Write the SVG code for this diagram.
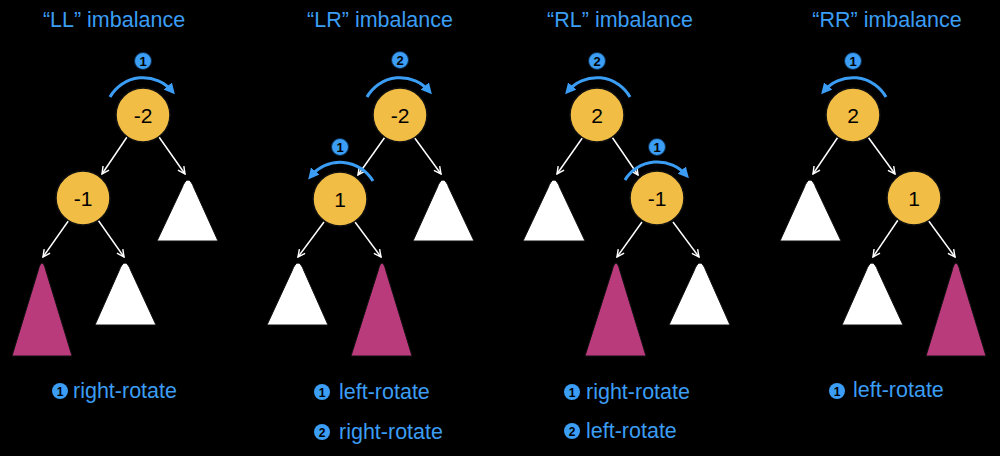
<svg xmlns="http://www.w3.org/2000/svg" width="1000" height="456" viewBox="0 0 1000 456">
<defs>
<marker id="rot" viewBox="0 0 10 10" markerUnits="userSpaceOnUse" markerWidth="11" markerHeight="11" refX="6" refY="5" orient="auto">
<path d="M0,0 L10,5 L0,10 z" fill="#3b9df4"/>
</marker>
<marker id="open" viewBox="0 0 10 10" markerUnits="userSpaceOnUse" markerWidth="9" markerHeight="9" refX="9" refY="5" orient="auto">
<path d="M1,1 L9,5 L1,9" fill="none" stroke="#ffffff" stroke-width="1.6"/>
</marker>
<style>
.title{font-family:"Liberation Sans",Arial,sans-serif;font-size:21.5px;fill:#3b9df4;text-anchor:middle}
.cap{font-family:"Liberation Sans",Arial,sans-serif;font-size:21.5px;fill:#3b9df4}
.node{fill:#f1bd44;stroke:#111;stroke-width:1.5}
.nt{font-family:"Liberation Sans",Arial,sans-serif;font-size:21px;fill:#000;text-anchor:middle}
.badge{fill:#3b9df4;stroke:#0a2a4a;stroke-width:1}
.bt{font-family:"Liberation Sans",Arial,sans-serif;font-size:13px;font-weight:bold;fill:#000;text-anchor:middle}
.cbt{font-family:"Liberation Sans",Arial,sans-serif;font-size:12px;font-weight:bold;fill:#000;text-anchor:middle}
.rot{fill:none;stroke:#3b9df4;stroke-width:3;marker-end:url(#rot)}
.edge{fill:none;stroke:#ffffff;stroke-width:1.5;marker-end:url(#open)}
.wt{fill:#ffffff;stroke:#111;stroke-width:1}
.pt{fill:#ba3b7c;stroke:#111;stroke-width:1}
</style>
</defs>
<rect width="1000" height="456" fill="#000"/>

<g id="titles">
<text class="title" x="114" y="27">“LL” imbalance</text>
<text class="title" x="380" y="27">“LR” imbalance</text>
<text class="title" x="620" y="27">“RL” imbalance</text>
<text class="title" x="887" y="27">“RR” imbalance</text>
</g>

<g id="connectors">
<path class="edge" d="M127,137 L102,174"/>
<path class="edge" d="M159,137 L185,174"/>
<path class="edge" d="M69,220 L43,257"/>
<path class="edge" d="M98,220 L124,257"/>

<path class="edge" d="M385,137 L358,175"/>
<path class="edge" d="M414,137 L441,174"/>
<path class="edge" d="M324,222 L298,257"/>
<path class="edge" d="M355,222 L381,257"/>

<path class="edge" d="M583,137 L557,174"/>
<path class="edge" d="M612,137 L638,175"/>
<path class="edge" d="M642,222 L617,257"/>
<path class="edge" d="M673,222 L699,257"/>

<path class="edge" d="M838,137 L813,174"/>
<path class="edge" d="M868,137 L895,174"/>
<path class="edge" d="M898,220 L873,257"/>
<path class="edge" d="M928,220 L955,257"/>
</g>

<g id="rotations">
<path class="rot" d="M110,97 A38,38 0 0 1 172,91"/>
<path class="rot" d="M367,97 A38,38 0 0 1 429,91"/>
<path class="rot" d="M373,181 A38,38 0 0 0 311,176"/>
<path class="rot" d="M630,97 A38,38 0 0 0 568,91"/>
<path class="rot" d="M625,180 A38,38 0 0 1 686,175"/>
<path class="rot" d="M886,97 A38,38 0 0 0 824,91"/>
</g>

<g id="badges">
<circle class="badge" cx="143" cy="61" r="8.5"/><text class="bt" x="143" y="65.5">1</text>
<circle class="badge" cx="400" cy="60" r="8.5"/><text class="bt" x="400" y="64.5">2</text>
<circle class="badge" cx="340" cy="147" r="8.5"/><text class="bt" x="340" y="151.5">1</text>
<circle class="badge" cx="597" cy="61" r="8.5"/><text class="bt" x="597" y="65.5">2</text>
<circle class="badge" cx="657" cy="147" r="8.5"/><text class="bt" x="657" y="151.5">1</text>
<circle class="badge" cx="853" cy="61" r="8.5"/><text class="bt" x="853" y="65.5">1</text>
</g>

<g id="ll-root"><circle class="node" cx="143" cy="115" r="27"/><text class="nt" x="143" y="122.5">-2</text></g>
<g id="ll-left"><circle class="node" cx="83" cy="198" r="27"/><text class="nt" x="83" y="205.5">-1</text></g>
<g id="ll-t1"><path class="wt" d="M157,241 L182,188 Q188,172 194,188 L218,241 Z"/></g>
<g id="ll-t2"><path class="pt" d="M12,356 L38,271 Q42,255 46,271 L72,356 Z"/></g>
<g id="ll-t3"><path class="wt" d="M95,325 L119,271 Q125,255 131,271 L156,325 Z"/></g>

<g id="lr-root"><circle class="node" cx="400" cy="115" r="27"/><text class="nt" x="400" y="122.5">-2</text></g>
<g id="lr-left"><circle class="node" cx="340" cy="199" r="27"/><text class="nt" x="340" y="206.5">1</text></g>
<g id="lr-t1"><path class="wt" d="M413,241 L437,188 Q443,172 449,188 L474,241 Z"/></g>
<g id="lr-t2"><path class="wt" d="M267,325 L292,271 Q298,255 304,271 L328,325 Z"/></g>
<g id="lr-t3"><path class="pt" d="M351,356 L378,271 Q382,255 386,271 L412,356 Z"/></g>

<g id="rl-root"><circle class="node" cx="597" cy="115" r="27"/><text class="nt" x="597" y="122.5">2</text></g>
<g id="rl-right"><circle class="node" cx="657" cy="198" r="27"/><text class="nt" x="657" y="205.5">-1</text></g>
<g id="rl-t1"><path class="wt" d="M523,241 L548,188 Q554,172 560,188 L585,241 Z"/></g>
<g id="rl-t2"><path class="pt" d="M585,356 L612,271 Q616,255 620,271 L646,356 Z"/></g>
<g id="rl-t3"><path class="wt" d="M669,325 L694,271 Q700,255 706,271 L730,325 Z"/></g>

<g id="rr-root"><circle class="node" cx="853" cy="115" r="27"/><text class="nt" x="853" y="122.5">2</text></g>
<g id="rr-right"><circle class="node" cx="914" cy="198" r="27"/><text class="nt" x="914" y="205.5">1</text></g>
<g id="rr-t1"><path class="wt" d="M780,241 L804,188 Q810,172 816,188 L841,241 Z"/></g>
<g id="rr-t2"><path class="wt" d="M842,325 L866,271 Q872,255 878,271 L903,325 Z"/></g>
<g id="rr-t3"><path class="pt" d="M926,356 L952,271 Q956,255 960,271 L986,356 Z"/></g>

<g id="captions">
<circle cx="60" cy="391" r="8" fill="#3b9df4"/><text class="cbt" x="60" y="395.5">1</text>
<text class="cap" x="73" y="398">right-rotate</text>
<circle cx="322" cy="392" r="8" fill="#3b9df4"/><text class="cbt" x="322" y="396.5">1</text>
<text class="cap" x="339" y="399">left-rotate</text>
<circle cx="322" cy="432" r="8" fill="#3b9df4"/><text class="cbt" x="322" y="436.5">2</text>
<text class="cap" x="339" y="439">right-rotate</text>
<circle cx="572" cy="392" r="8" fill="#3b9df4"/><text class="cbt" x="572" y="396.5">1</text>
<text class="cap" x="586" y="399">right-rotate</text>
<circle cx="572" cy="431" r="8" fill="#3b9df4"/><text class="cbt" x="572" y="435.5">2</text>
<text class="cap" x="586" y="438">left-rotate</text>
<circle cx="837" cy="391" r="8" fill="#3b9df4"/><text class="cbt" x="837" y="395.5">1</text>
<text class="cap" x="853" y="397">left-rotate</text>
</g>
</svg>
